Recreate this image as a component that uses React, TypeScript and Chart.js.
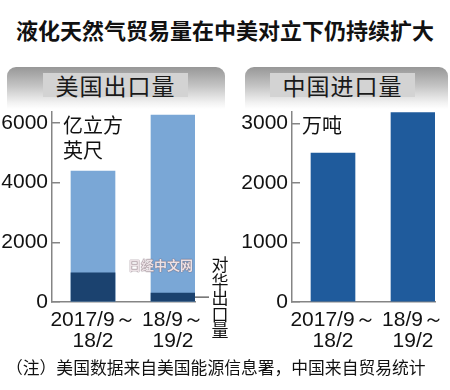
import React, { useEffect, useRef } from "react";
import { Chart, registerables } from "chart.js";

Chart.register(...registerables);

// ---- data ----
const periodLine1 = ["2017/9～", "18/9～"];
const periodLine2 = ["18/2", "19/2"];
const periodPos = [0, 1];
const usExportTotal = [4390, 6270]; // 亿立方英尺
const usExportToChina = [980, 300]; // 对华出口量
const chinaImport = [2500, 3180]; // 万吨
const usTicks = [0, 2000, 4000, 6000];
const cnTicks = [0, 1000, 2000, 3000];

const LIGHT = "#7aa7d6";
const DARK = "#1b426f";
const BLUE = "#1f5b9c";
const AXIS = "#858585";
const NUM_FONT = "'Liberation Sans', Arial, sans-serif";
const CJK = "'Noto Sans CJK SC', 'Noto Sans', sans-serif";

function makeOptions(yMax: number, yTicks: number[], yWidth: number, padRight: number, extra: any = {}) {
  return {
    animation: false,
    responsive: false,
    maintainAspectRatio: false,
    layout: { padding: { top: 12, right: padRight, left: 0, bottom: 0 } },
    plugins: { legend: { display: false }, tooltip: { enabled: false } },
    scales: {
      x: {
        type: "linear",
        min: -0.5125,
        max: 1.275,
        offset: false,
        grid: { display: false },
        border: { display: true, color: AXIS, width: 1.5 },
        afterBuildTicks: (s: any) => {
          s.ticks = periodPos.map((v) => ({ value: v }));
        },
        afterFit: (s: any) => {
          s.height = 58;
          s.paddingLeft = 0;
          s.paddingRight = 0;
        },
        ticks: {
          autoSkip: false,
          maxRotation: 0,
          minRotation: 0,
          padding: 0,
          color: "#111",
          font: { family: NUM_FONT, size: 21, lineHeight: 0.98 },
          callback: (v: number) => {
            const i = periodPos.indexOf(v);
            return i < 0 ? "" : [periodLine1[i], periodLine2[i]];
          },
        },
      },
      y: {
        min: 0,
        max: yMax,
        afterBuildTicks: (s: any) => {
          s.ticks = yTicks.map((v) => ({ value: v }));
        },
        afterFit: (s: any) => {
          s.width = yWidth;
          s.paddingTop = 0;
          s.paddingBottom = 0;
        },
        grid: { drawOnChartArea: false, drawTicks: true, tickLength: -8, color: AXIS, lineWidth: 1.5 },
        border: { display: true, color: AXIS, width: 1.5 },
        ticks: {
          padding: 12,
          color: "#111",
          font: { family: NUM_FONT, size: 21 },
          callback: (v: number) => String(v),
        },
      },
    },
    ...extra,
  };
}

const leaderPlugin = {
  id: "leader",
  afterDatasetsDraw(chart: any) {
    const meta = chart.getDatasetMeta(0);
    const el = meta.data[1];
    if (!el) return;
    const ctx = chart.ctx;
    const x0 = el.x + el.width / 2;
    const y = (el.y + el.base) / 2;
    ctx.save();
    ctx.strokeStyle = "#6a6a6a";
    ctx.lineWidth = 1.5;
    ctx.beginPath();
    ctx.moveTo(x0, y);
    ctx.lineTo(x0 + 14, y);
    ctx.stroke();
    ctx.restore();
  },
};

function Header({ left, width, innerLeft, innerWidth, text }: any) {
  return (
    <>
      <div
        style={{
          position: "absolute",
          left,
          top: 67,
          width,
          height: 42,
          borderRadius: "9px 9px 0 0",
          background: "linear-gradient(to bottom, #979797 0%, #c4c4c4 45%, #f2f2f2 85%, #ffffff 100%)",
        }}
      />
      <div
        style={{
          position: "absolute",
          left: innerLeft,
          top: 73,
          width: innerWidth,
          height: 24,
          background: "#d3d3d3",
          textAlign: "center",
          fontFamily: CJK,
          fontSize: 23,
          lineHeight: "24px",
          letterSpacing: 1,
          color: "#1a1a1a",
        }}
      >
        {text}
      </div>
    </>
  );
}

export default function App() {
  const leftRef = useRef<HTMLCanvasElement>(null);
  const rightRef = useRef<HTMLCanvasElement>(null);

  useEffect(() => {
    const left = new Chart(leftRef.current as HTMLCanvasElement, {
      type: "bar",
      data: {
        datasets: [
          {
            label: "对华出口量",
            data: periodPos.map((x, i) => ({ x, y: usExportToChina[i] })),
            backgroundColor: DARK,
            barThickness: 44,
            grouped: false,
          },
          {
            label: "美国出口量",
            data: periodPos.map((x, i) => ({ x, y: usExportTotal[i] })),
            backgroundColor: LIGHT,
            barThickness: 44,
            grouped: false,
          },
        ],
      },
      options: makeOptions(6370, usTicks, 52, 30) as any,
      plugins: [leaderPlugin],
    });
    const right = new Chart(rightRef.current as HTMLCanvasElement, {
      type: "bar",
      data: {
        datasets: [
          {
            label: "中国进口量",
            data: periodPos.map((x, i) => ({ x, y: chinaImport[i] })),
            backgroundColor: BLUE,
            barThickness: 44,
          },
        ],
      },
      options: makeOptions(3190, cnTicks, 67, 15) as any,
    });
    return () => {
      left.destroy();
      right.destroy();
    };
  }, []);

  return (
    <div
      style={{
        position: "absolute",
        left: 0,
        top: 0,
        width: 450,
        height: 390,
        background: "#fff",
        overflow: "hidden",
        fontFamily: CJK,
      }}
    >
      <div
        style={{
          position: "absolute",
          left: 0,
          top: 16,
          width: 450,
          textAlign: "center",
          fontSize: 22,
          fontWeight: 700,
          lineHeight: "26px",
          color: "#111",
        }}
      >
        液化天然气贸易量在中美对立下仍持续扩大
      </div>

      <Header left={7} width={218} innerLeft={43} innerWidth={145} text="美国出口量" />
      <Header left={245} width={203} innerLeft={270} innerWidth={145} text="中国进口量" />

      <canvas
        ref={leftRef}
        width={225}
        height={260}
        style={{ position: "absolute", left: 0, top: 100, width: 225, height: 260 }}
      />
      <canvas
        ref={rightRef}
        width={225}
        height={260}
        style={{ position: "absolute", left: 225, top: 100, width: 225, height: 260 }}
      />

      <div
        style={{
          position: "absolute",
          left: 63,
          top: 112,
          fontSize: 20,
          lineHeight: "25px",
          color: "#111",
        }}
      >
        亿立方
        <br />
        英尺
      </div>
      <div
        style={{
          position: "absolute",
          left: 302,
          top: 112,
          fontSize: 20,
          lineHeight: "25px",
          color: "#111",
        }}
      >
        万吨
      </div>
      <div
        style={{
          position: "absolute",
          left: 211,
          top: 256,
          width: 18,
          fontSize: 17,
          lineHeight: "16.6px",
          color: "#111",
          textAlign: "center",
        }}
      >
        对<br />华<br />出<br />口<br />量
      </div>
      <div
        style={{
          position: "absolute",
          left: 128,
          top: 255,
          fontSize: 13,
          fontWeight: 700,
          color: "#ece2e6",
          textShadow: "0 0 1px #6b5560, 0 0 1px #6b5560",
        }}
      >
        日经中文网
      </div>
      <div
        style={{
          position: "absolute",
          left: 6,
          top: 356,
          width: 444,
          textAlign: "left",
          fontSize: 16.8,
          lineHeight: "22px",
          color: "#111",
        }}
      >
        （注）美国数据来自美国能源信息署，中国来自贸易统计
      </div>
    </div>
  );
}
